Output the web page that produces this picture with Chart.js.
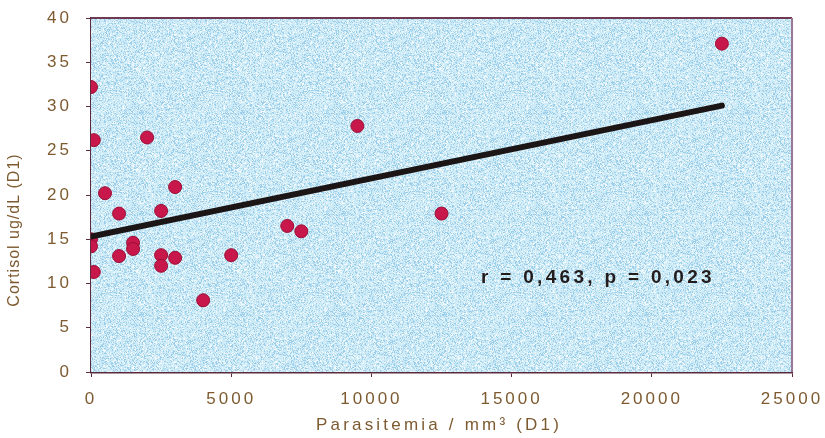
<!DOCTYPE html>
<html>
<head>
<meta charset="utf-8">
<script src="https://cdn.jsdelivr.net/npm/chart.js@4.4.1/dist/chart.umd.min.js"></script>
<style>
  html, body { margin: 0; padding: 0; background: #ffffff; }
  #wrap { width: 825px; height: 438px; }
</style>
</head>
<body>
<div id="wrap"><canvas id="cortisol_chart" width="825" height="438"></canvas></div>
<script>
// parasitemia (/mm3) and cortisol (ug/dL) on day 1, one entry per patient
const parasitemia = [0, 100, 2000, 500, 3000, 1000, 2500, 0, 0, 100, 1000, 1500, 1500, 2500, 2500, 3000, 4000, 5000, 9500, 7000, 7500, 12500, 22500];
const cortisol = [32.2, 26.2, 26.5, 20.2, 20.9, 17.9, 18.2, 15.0, 14.2, 11.3, 13.1, 14.6, 13.9, 13.2, 12.0, 12.9, 8.1, 13.2, 27.8, 16.5, 15.9, 17.9, 37.1];

// regression line end points
const fit_x = [0, 22500];
const fit_y = [15.3, 30.1];

const x_ticks = [0, 5000, 10000, 15000, 20000, 25000];
const y_ticks = [0, 5, 10, 15, 20, 25, 30, 35, 40];

const x_title = 'Parasitemia / mm³ (D1)';
const y_title = 'Cortisol ug/dL (D1)';
const stats_text = 'r = 0,463, p = 0,023';

const brown = '#7d5a30';
const axis_color = '#5c2a3c';
const font_family = '"Liberation Sans", Arial, sans-serif';

// speckled light blue fill for the plot area
function make_speckle(){
    const c = document.createElement('canvas');
    c.width = 101; c.height = 101;
    const g = c.getContext('2d');
    g.fillStyle = '#cdebf6';
    g.fillRect(0, 0, 101, 101);
    let seed = 12345;
    const next = () => { seed = (seed * 1103515245 + 12345) % 2147483648; return seed / 2147483648; };
    for (let y = 0; y < 101; y++) {
        for (let x = 0; x < 101; x++) {
            const r = next();
            if (r < 0.22) { g.fillStyle = 'rgba(100,170,220,0.45)'; g.fillRect(x, y, 1, 1); }
            else if (r < 0.38) { g.fillStyle = 'rgba(255,255,255,0.75)'; g.fillRect(x, y, 1, 1); }
        }
    }
    return c;
}
const speckle = make_speckle();

const spacing_plugin = {
    id: 'spacing',
    beforeLayout(chart){ chart.ctx.letterSpacing = '3px'; },
    beforeDraw(chart){ chart.ctx.letterSpacing = '3px'; }
};

const frame_plugin = {
    id: 'frame',
    beforeDatasetsDraw(chart){
        const a = chart.chartArea;
        const ctx = chart.ctx;
        ctx.save();
        ctx.fillStyle = ctx.createPattern(speckle, 'repeat');
        ctx.fillRect(a.left, a.top, a.right - a.left, a.bottom - a.top);
        // top and right edges of the frame
        ctx.lineWidth = 2;
        ctx.strokeStyle = '#6e3a52';
        ctx.beginPath();
        ctx.moveTo(a.left, a.top);
        ctx.lineTo(a.right, a.top);
        ctx.stroke();
        ctx.strokeStyle = '#9a7896';
        ctx.beginPath();
        ctx.moveTo(a.right, a.top);
        ctx.lineTo(a.right, a.bottom);
        ctx.stroke();
        ctx.restore();
    },
    afterDraw(chart){
        const ctx = chart.ctx;
        ctx.save();
        ctx.fillStyle = brown;
        ctx.letterSpacing = '3.2px';
        ctx.font = '17px ' + font_family;
        ctx.textAlign = 'center';
        ctx.textBaseline = 'middle';
        ctx.fillText(x_title, 439, 425);

        ctx.letterSpacing = '1px';
        ctx.font = '16px ' + font_family;
        ctx.translate(15, 230);
        ctx.rotate(-Math.PI / 2);
        ctx.fillText(y_title, 0, 0);
        ctx.restore();

        ctx.save();
        ctx.fillStyle = '#231c1c';
        ctx.letterSpacing = '3.3px';
        ctx.font = 'bold 19px ' + font_family;
        ctx.textAlign = 'left';
        ctx.textBaseline = 'middle';
        ctx.fillText(stats_text, 481, 278);
        ctx.restore();
    }
};

const points = parasitemia.map((v, i) => ({ x: v, y: cortisol[i] }));
const fit_line = fit_x.map((v, i) => ({ x: v, y: fit_y[i] }));

const ctx = document.querySelector('#cortisol_chart').getContext('2d');
const chart = new Chart(ctx, {
    type: 'scatter',
    data: {
        datasets: [
            {
                type: 'line',
                data: fit_line,
                borderColor: '#1c1515',
                borderWidth: 6,
                borderCapStyle: 'round',
                pointRadius: 0,
                order: 0
            },
            {
                data: points,
                backgroundColor: '#c8174a',
                borderColor: '#9a0f36',
                borderWidth: 1,
                pointRadius: 6.5,
                order: 1
            }
        ]
    },
    options: {
        responsive: false,
        animation: false,
        layout: { padding: { top: 18, right: 33, bottom: 0, left: 0 } },
        plugins: {
            legend: { display: false },
            tooltip: { enabled: false }
        },
        scales: {
            x: {
                type: 'linear',
                min: 0,
                max: 25000,
                afterBuildTicks: (scale) => { scale.ticks = x_ticks.map(v => ({ value: v })); },
                afterFit: (scale) => {
                    scale.height = 66;
                    // keep the plot edges fixed, labels may overhang
                    scale.paddingLeft = 0;
                    scale.paddingRight = 0;
                },
                border: { color: axis_color, width: 2.5 },
                grid: { drawOnChartArea: false, color: axis_color, tickLength: 5 },
                ticks: {
                    color: brown,
                    padding: 12,
                    maxRotation: 0,
                    font: { size: 17, family: font_family },
                    callback: (v) => String(v)
                }
            },
            y: {
                type: 'linear',
                min: 0,
                max: 40,
                afterBuildTicks: (scale) => { scale.ticks = y_ticks.map(v => ({ value: v })); },
                afterFit: (scale) => {
                    scale.width = 91;
                    scale.paddingTop = 0;
                    scale.paddingBottom = 0;
                },
                border: { color: axis_color, width: 2.5 },
                grid: { drawOnChartArea: false, color: axis_color, tickLength: 5 },
                ticks: {
                    color: brown,
                    padding: 14,
                    font: { size: 17, family: font_family },
                    callback: (v) => String(v)
                }
            }
        }
    },
    plugins: [spacing_plugin, frame_plugin]
});
</script>
</body>
</html>
